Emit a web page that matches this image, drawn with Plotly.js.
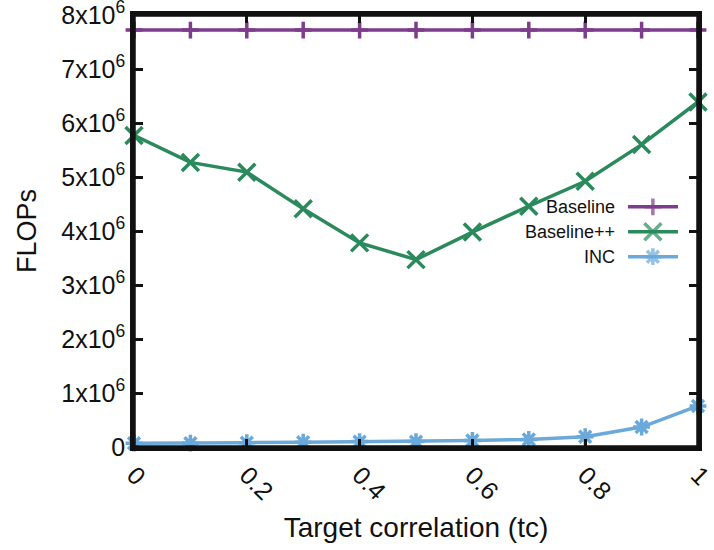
<!DOCTYPE html>
<html>
<head>
<meta charset="utf-8">
<script src="https://cdn.plot.ly/plotly-3.0.1.min.js"></script>
<style>html,body{margin:0;padding:0;background:#fff;}#chart{width:714px;height:550px;}</style>
</head>
<body>
<div id="chart"></div>
<script>
// ---- data ----
const tc = [0, 0.1, 0.2, 0.3, 0.4, 0.5, 0.6, 0.7, 0.8, 0.9, 1.0];
const baseline = [7.72e6, 7.72e6, 7.72e6, 7.72e6, 7.72e6, 7.72e6, 7.72e6, 7.72e6, 7.72e6, 7.72e6, 7.72e6];
const baselinePP = [5.77e6, 5.27e6, 5.09e6, 4.41e6, 3.78e6, 3.47e6, 3.98e6, 4.46e6, 4.92e6, 5.60e6, 6.39e6];
const inc = [0.07e6, 0.07e6, 0.08e6, 0.09e6, 0.10e6, 0.10e6, 0.12e6, 0.14e6, 0.19e6, 0.37e6, 0.76e6];
const seriesNames = ["Baseline", "Baseline++", "INC"];
const yTickVals = [0, 1e6, 2e6, 3e6, 4e6, 5e6, 6e6, 7e6, 8e6];
const yTickText = ["0", "1x10<sup>6</sup>", "2x10<sup>6</sup>", "3x10<sup>6</sup>", "4x10<sup>6</sup>",
                   "5x10<sup>6</sup>", "6x10<sup>6</sup>", "7x10<sup>6</sup>", "8x10<sup>6</sup>"];
const xTickVals = [0, 0.2, 0.4, 0.6, 0.8, 1];
const xTickText = ["0", "0.2", "0.4", "0.6", "0.8", "1"];

// ---- styles ----
const colors = ["#7d3c8c", "#2a8a5c", "#6aa9da"];
const symbols = ["cross-thin-open", "x-thin-open", "asterisk-open"];
const sizes = [12, 17, 14];
const FONT = "Liberation Sans, Arial, Helvetica, sans-serif";
const YMAX = 8e6;
const AXC = "#111";

const ys = [baseline, baselinePP, inc];
const traces = ys.map((y, i) => ({
  x: tc, y: y, name: seriesNames[i], type: "scatter", mode: "lines+markers",
  line: {color: colors[i], width: 3.5},
  marker: {symbol: symbols[i], size: sizes[i], line: {color: colors[i], width: 3.5}, color: colors[i]},
  cliponaxis: false, showlegend: false
}));

// ---- manual legend (symbol to the right of the label), positioned as plot fractions ----
const legX = [0.876, 0.920, 0.9645];
const legY = [0.556, 0.498, 0.4405];
const annotations = [];
seriesNames.forEach((n, i) => {
  const yy = legY[i] * YMAX;
  traces.push({
    x: legX, y: [yy, yy, yy],
    type: "scatter", mode: "lines+markers", showlegend: false, hoverinfo: "skip",
    line: {color: colors[i], width: 3.5},
    marker: {symbol: symbols[i], size: [0, sizes[i], 0], line: {color: colors[i], width: 3.5}, color: colors[i]},
    cliponaxis: false
  });
  annotations.push({
    xref: "paper", yref: "paper", x: 0.856, y: legY[i], xanchor: "right", yanchor: "middle",
    text: n, showarrow: false, font: {family: FONT, size: 18, color: "#111"}
  });
});

const layout = {
  width: 714, height: 550,
  margin: {l: 134, r: 16, t: 15, b: 103},
  paper_bgcolor: "#fff", plot_bgcolor: "#fff",
  font: {family: FONT, color: "#111"},
  showlegend: false,
  xaxis: {
    range: [0, 1], tickvals: xTickVals, ticktext: xTickText, tickangle: 45,
    tickfont: {family: FONT, size: 25, color: "#111"},
    showgrid: false, zeroline: false,
    showline: true, linecolor: AXC, linewidth: 3.5, mirror: "allticks",
    ticks: "inside", ticklen: 8, tickwidth: 3, tickcolor: AXC,
    ticklabeloverflow: "allow",
    title: {text: "Target correlation (tc)", font: {family: FONT, size: 28, color: "#111"}, standoff: 14},
    automargin: false
  },
  yaxis: {
    range: [0, YMAX], tickvals: yTickVals, ticktext: yTickText,
    tickfont: {family: FONT, size: 25, color: "#111"},
    showgrid: false, zeroline: false,
    showline: true, linecolor: AXC, linewidth: 3.5, mirror: "allticks",
    ticks: "inside", ticklen: 9, tickwidth: 3, tickcolor: AXC,
    ticklabeloverflow: "allow",
    title: {text: "FLOPs", font: {family: FONT, size: 27, color: "#111"}, standoff: 18},
    automargin: false
  },
  shapes: [{type: "rect", xref: "paper", yref: "paper", x0: 0, x1: 1, y0: 0, y1: 1,
            line: {color: AXC, width: 3.5}, layer: "above"}],
  annotations: annotations
};

Plotly.newPlot("chart", traces, layout, {displayModeBar: false});
</script>
</body>
</html>
